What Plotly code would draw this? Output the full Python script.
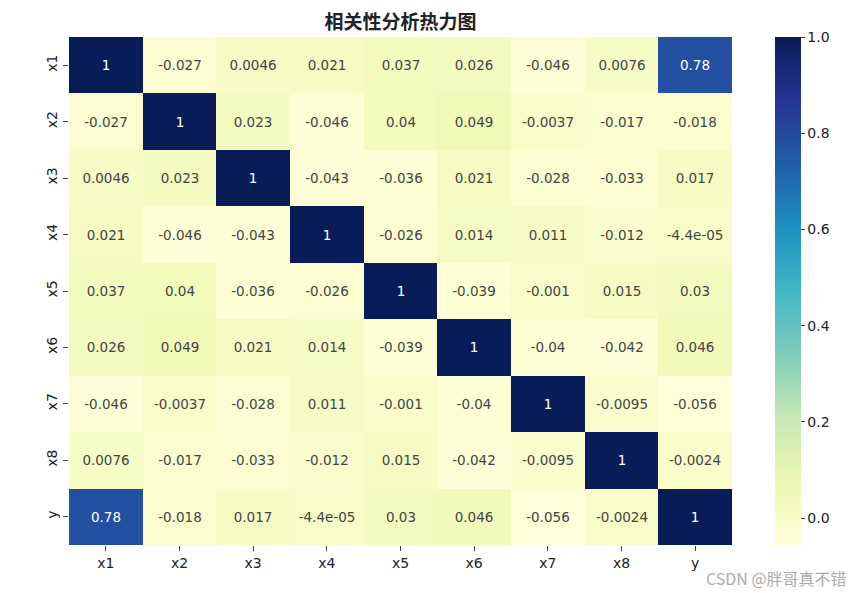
import plotly.graph_objects as go
import plotly.colors as pc

labels = ["x1", "x2", "x3", "x4", "x5", "x6", "x7", "x8", "y"]
row_x1 = [1, -0.027, 0.0046, 0.021, 0.037, 0.026, -0.046, 0.0076, 0.78]
row_x2 = [-0.027, 1, 0.023, -0.046, 0.04, 0.049, -0.0037, -0.017, -0.018]
row_x3 = [0.0046, 0.023, 1, -0.043, -0.036, 0.021, -0.028, -0.033, 0.017]
row_x4 = [0.021, -0.046, -0.043, 1, -0.026, 0.014, 0.011, -0.012, -4.4e-05]
row_x5 = [0.037, 0.04, -0.036, -0.026, 1, -0.039, -0.001, 0.015, 0.03]
row_x6 = [0.026, 0.049, 0.021, 0.014, -0.039, 1, -0.04, -0.042, 0.046]
row_x7 = [-0.046, -0.0037, -0.028, 0.011, -0.001, -0.04, 1, -0.0095, -0.056]
row_x8 = [0.0076, -0.017, -0.033, -0.012, 0.015, -0.042, -0.0095, 1, -0.0024]
row_y = [0.78, -0.018, 0.017, -4.4e-05, 0.03, 0.046, -0.056, -0.0024, 1]
cbar_ticks = [0.0, 0.2, 0.4, 0.6, 0.8, 1.0]

z = [row_x1, row_x2, row_x3, row_x4, row_x5, row_x6, row_x7, row_x8, row_y]
text = [[f"{v:.2g}" for v in row] for row in z]
zmin = min(min(r) for r in z)
zmax = max(max(r) for r in z)

seq = pc.sequential.YlGnBu
n = len(seq)
colorscale = [[i / (n - 1), c] for i, c in enumerate(seq)]

CJK = "Noto Sans CJK SC"
NUM = "DejaVu Sans"

# The page body has an 8px margin, so the figure is sized/offset to compensate.
W, H = 857, 585
L, R, T, B = 61, 133, 29, 48
plot_w = W - L - R

fig = go.Figure(go.Heatmap(
    z=z, x=labels, y=labels, text=text, texttemplate="%{text}",
    textfont=dict(size=13.5, family=NUM),
    colorscale=colorscale, zmin=zmin, zmax=zmax,
    xgap=0, ygap=0,
    colorbar=dict(
        x=(767 - 61) / plot_w, xanchor="left", xpad=0, ypad=0,
        y=0.5, yanchor="middle", len=1.0, lenmode="fraction",
        thickness=26, outlinewidth=0, ticks="outside", ticklen=4,
        tickvals=cbar_ticks, ticktext=[f"{t:.1f}" for t in cbar_ticks],
        tickfont=dict(size=14, family=NUM, color="#222"),
    ),
))

fig.update_layout(
    width=W, height=H,
    margin=dict(l=L, r=R, t=T, b=B),
    paper_bgcolor="white", plot_bgcolor="white",
    font=dict(family=NUM, color="#222"),
    title=dict(text="相关性分析热力图", x=(L + plot_w / 2) / W, xanchor="center",
               y=1 - 14 / H, yanchor="middle",
               font=dict(size=19, family=CJK, color="#222", weight="bold")),
    xaxis=dict(showgrid=False, zeroline=False, ticks="outside", ticklen=5,
               tickfont=dict(size=14, family=NUM), showline=False),
    yaxis=dict(showgrid=False, zeroline=False, ticks="outside", ticklen=5,
               autorange="reversed", tickangle=-90,
               tickfont=dict(size=14, family=NUM), showline=False),
    annotations=[dict(text="CSDN @胖哥真不错", xref="paper", yref="paper",
                      x=1 + (841 - 724) / plot_w, y=-(570 - 537) / (H - T - B),
                      xanchor="right", yanchor="middle", showarrow=False,
                      font=dict(size=16, family=CJK, color="#ababab"))],
)

fig.write_html("out.html")
